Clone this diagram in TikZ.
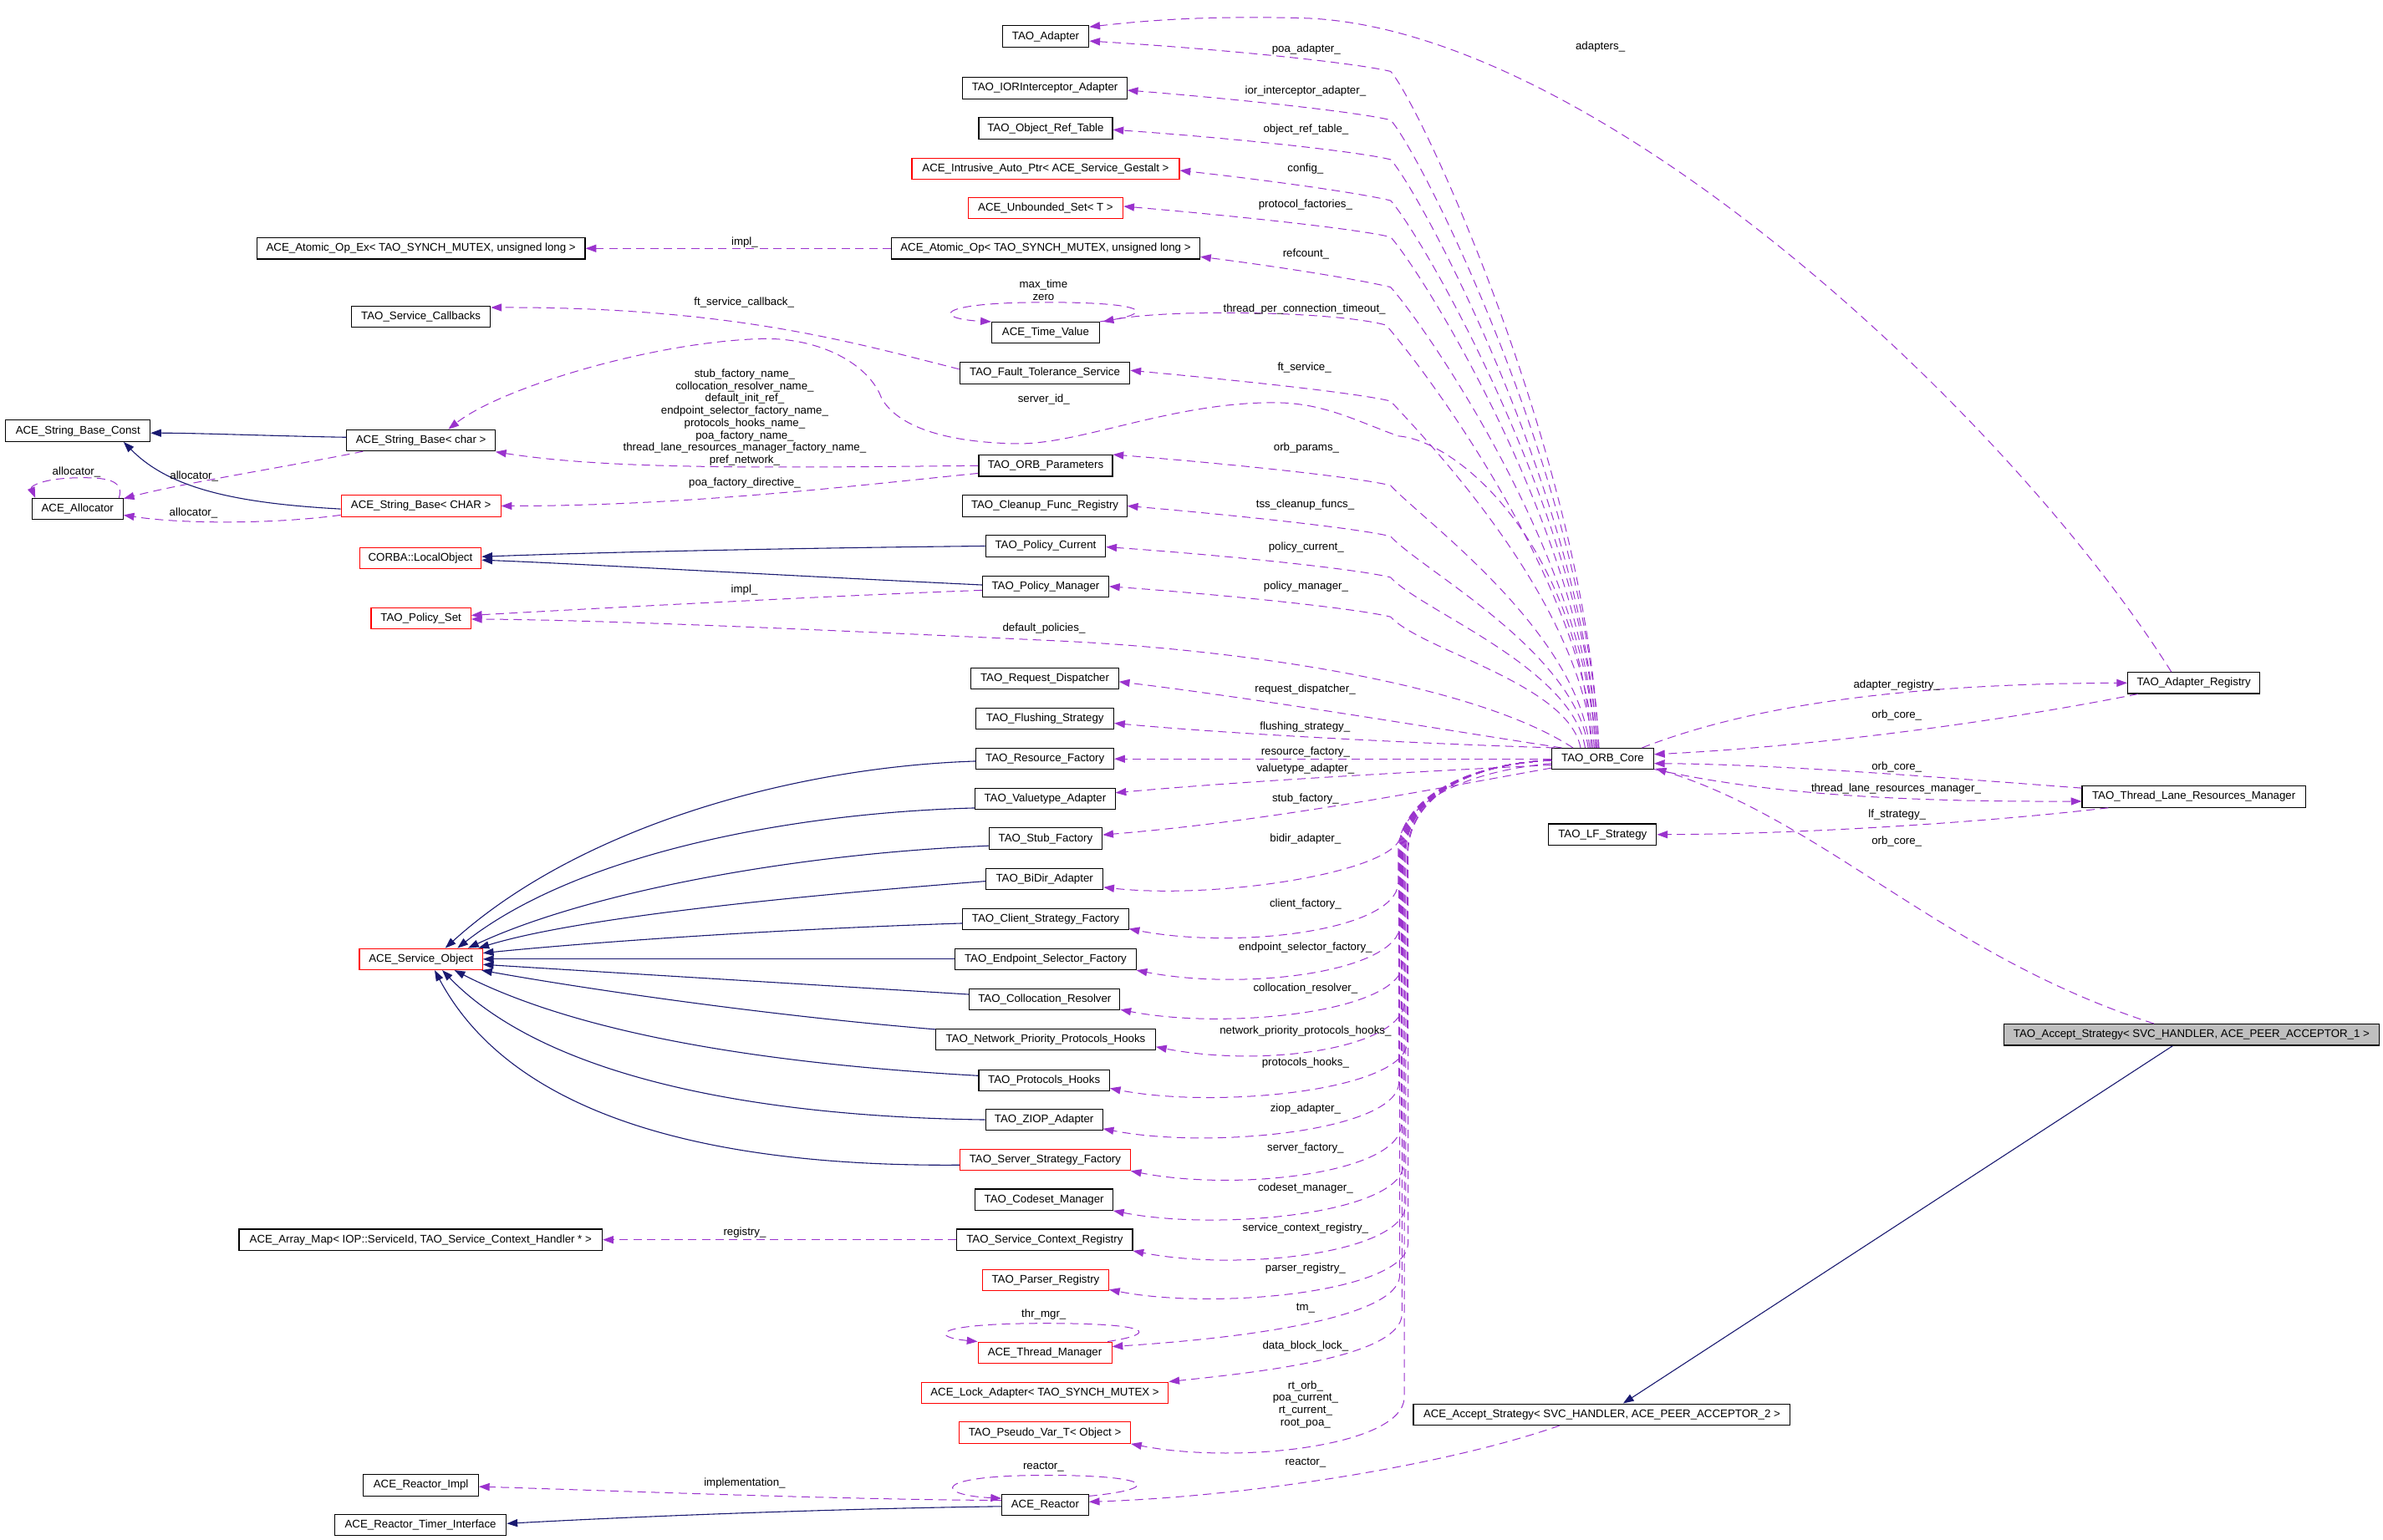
\documentclass[tikz,border=0pt]{standalone}
\usepackage{fontspec}
\setmainfont{Liberation Sans}
\usetikzlibrary{arrows.meta,calc}
\definecolor{purp}{HTML}{9A32CD}
\definecolor{navyb}{HTML}{191970}
\definecolor{grayf}{HTML}{BFBFBF}
\newcommand\dgf{\fontsize{7.3}{8.1}\selectfont}
\begin{document}
\begin{tikzpicture}[x=1pt,y=-1pt,
  box/.style={draw=black,line width=0.6pt,minimum height=14pt,inner xsep=3pt,inner ysep=0pt,font=\dgf,fill=white},
  redbox/.style={box,draw=red},
  lbl/.style={font=\dgf,inner sep=0pt,align=center},
  usg/.style={draw=purp,line width=0.55pt,dash pattern=on 5.5pt off 3.5pt,-{Triangle[length=7pt,width=5pt]}},
  inh/.style={draw=navyb,line width=0.6pt,-{Triangle[length=7pt,width=5pt]}}]
\fill[white] (0,0) rectangle (1568,1013.6);
\useasboundingbox (0,0) rectangle (1568,1013.6);
% nodes
\node[box,minimum width=57pt] (adapter) at (688,24) {TAO\_Adapter};
\node[box,minimum width=108pt] (ior) at (687.5,58) {TAO\_IORInterceptor\_Adapter};
\node[box,minimum width=88pt] (objref) at (688,84.5) {TAO\_Object\_Ref\_Table};
\node[redbox,minimum width=176pt] (iap) at (688,111) {ACE\_Intrusive\_Auto\_Ptr< ACE\_Service\_Gestalt >};
\node[redbox,minimum width=102pt] (uset) at (688,137) {ACE\_Unbounded\_Set< T >};
\node[box,minimum width=203pt] (aop) at (688,163.5) {ACE\_Atomic\_Op< TAO\_SYNCH\_MUTEX, unsigned long >};
\node[box,minimum width=216pt] (aopex) at (277,163.5) {ACE\_Atomic\_Op\_Ex< TAO\_SYNCH\_MUTEX, unsigned long >};
\node[box,minimum width=71pt] (tv) at (688,219) {ACE\_Time\_Value};
\node[box,minimum width=91.5pt] (svccb) at (277,208.4) {TAO\_Service\_Callbacks};
\node[box,minimum width=112pt] (fts) at (687.5,245.5) {TAO\_Fault\_Tolerance\_Service};
\node[box,minimum width=95pt] (sbconst) at (51.3,283.6) {ACE\_String\_Base\_Const};
\node[box,minimum width=97.6pt] (sbchar) at (277,289.8) {ACE\_String\_Base< char >};
\node[box,minimum width=60pt] (alloc) at (51,335) {ACE\_Allocator};
\node[redbox,minimum width=105pt] (sbCHAR) at (277,333) {ACE\_String\_Base< CHAR >};
\node[box,minimum width=88pt] (orbp) at (688,306.5) {TAO\_ORB\_Parameters};
\node[box,minimum width=108pt] (cfr) at (687.5,333) {TAO\_Cleanup\_Func\_Registry};
\node[redbox,minimum width=80pt] (lobj) at (276.6,367.4) {CORBA::LocalObject};
\node[box,minimum width=79pt] (pcur) at (688,359.4) {TAO\_Policy\_Current};
\node[box,minimum width=83pt] (pmgr) at (688,386) {TAO\_Policy\_Manager};
\node[redbox,minimum width=65.6pt] (pset) at (277,406.9) {TAO\_Policy\_Set};
\node[box,minimum width=97pt] (rd) at (687.5,446.7) {TAO\_Request\_Dispatcher};
\node[box,minimum width=90.6pt] (fls) at (687.6,473) {TAO\_Flushing\_Strategy};
\node[box,minimum width=90.6pt] (rf) at (687.6,499.5) {TAO\_Resource\_Factory};
\node[box,minimum width=92pt] (vta) at (687.7,525.8) {TAO\_Valuetype\_Adapter};
\node[box,minimum width=74.5pt] (stub) at (688,552) {TAO\_Stub\_Factory};
\node[box,minimum width=77pt] (bidir) at (687.3,578.5) {TAO\_BiDir\_Adapter};
\node[box,minimum width=109pt] (csf) at (688,605) {TAO\_Client\_Strategy\_Factory};
\node[box,minimum width=119pt] (esf) at (688,631.3) {TAO\_Endpoint\_Selector\_Factory};
\node[box,minimum width=99pt] (colres) at (687.4,657.7) {TAO\_Collocation\_Resolver};
\node[box,minimum width=144.6pt] (nph) at (688,684.2) {TAO\_Network\_Priority\_Protocols\_Hooks};
\node[box,minimum width=86pt] (ph) at (687,711) {TAO\_Protocols\_Hooks};
\node[box,minimum width=77pt] (ziop) at (687,737) {TAO\_ZIOP\_Adapter};
\node[redbox,minimum width=112pt] (ssf) at (687.7,763.4) {TAO\_Server\_Strategy\_Factory};
\node[box,minimum width=90.5pt] (csm) at (687,789.6) {TAO\_Codeset\_Manager};
\node[box,minimum width=115.6pt] (scr) at (687.4,816) {TAO\_Service\_Context\_Registry};
\node[redbox,minimum width=83pt] (pr) at (688,842.5) {TAO\_Parser\_Registry};
\node[redbox,minimum width=88pt] (thm) at (687.5,890.3) {ACE\_Thread\_Manager};
\node[redbox,minimum width=162.5pt] (lock) at (687.5,916.7) {ACE\_Lock\_Adapter< TAO\_SYNCH\_MUTEX >};
\node[redbox,minimum width=112.7pt] (pvar) at (687.5,943) {TAO\_Pseudo\_Var\_T< Object >};
\node[box,minimum width=57pt] (reactor) at (687.7,990.5) {ACE\_Reactor};
\node[box,minimum width=239pt] (amap) at (276.8,816) {ACE\_Array\_Map< IOP::ServiceId, TAO\_Service\_Context\_Handler * >};
\node[box,minimum width=75.6pt] (rimpl) at (277,977.5) {ACE\_Reactor\_Impl};
\node[box,minimum width=113pt] (rti) at (276.7,1003.8) {ACE\_Reactor\_Timer\_Interface};
\node[redbox,minimum width=81pt] (so) at (277,631.3) {ACE\_Service\_Object};
\node[box,minimum width=67pt] (core) at (1054.6,499.5) {TAO\_ORB\_Core};
\node[box,minimum width=71pt] (lf) at (1054.5,549.3) {TAO\_LF\_Strategy};
\node[box,minimum width=87pt] (areg) at (1443.5,449.5) {TAO\_Adapter\_Registry};
\node[box,minimum width=147pt] (tlrm) at (1443.5,524.4) {TAO\_Thread\_Lane\_Resources\_Manager};
\node[box,fill=grayf,minimum width=247pt] (tas) at (1442,681) {TAO\_Accept\_Strategy< SVC\_HANDLER, ACE\_PEER\_ACCEPTOR\_1 >};
\node[box,minimum width=248pt] (aas) at (1054,931) {ACE\_Accept\_Strategy< SVC\_HANDLER, ACE\_PEER\_ACCEPTOR\_2 >};
% upper fan from ORB core
\draw[usg] ($(core.north)+(-2.6,0)$) .. controls (1044,306) and (935,69) .. (915,47) .. controls (890,41) and (800,32) .. ($(adapter.east)+(0,3)$);
\draw[usg] ($(core.north)+(-2.6,0)$) .. controls (1044,319) and (935,101) .. (915,79) .. controls (890,73) and (800,64) .. ($(ior.east)+(0,1.4)$);
\draw[usg] ($(core.north)+(-3.6,0)$) .. controls (1043,330) and (935,127) .. (915,105) .. controls (890,99) and (800,90) .. ($(objref.east)+(0,0.9)$);
\draw[usg] ($(core.north)+(-3.6,0)$) .. controls (1043,340) and (935,154) .. (915,132) .. controls (890,126) and (820,117) .. ($(iap.east)+(0,1.2)$);
\draw[usg] ($(core.north)+(-4.6,0)$) .. controls (1042,349) and (935,178) .. (915,156) .. controls (890,150) and (800,141) .. ($(uset.east)+(0,-1.2)$);
\draw[usg] ($(core.north)+(-4.6,0)$) .. controls (1042,363) and (935,211) .. (915,189) .. controls (890,183) and (830,174) .. ($(aop.east)+(0,5.5)$);
\draw[usg] ($(core.north)+(-5.6,0)$) .. controls (1041,380) and (935,240) .. (912,214) .. controls (880,205) and (770,203) .. ($(tv.north east)+(2,0)$);
\draw[usg] ($(core.north)+(-6.6,0)$) .. controls (1040,393) and (935,286) .. (915,264) .. controls (890,258) and (800,249) .. ($(fts.east)+(0,-1.7)$);
\draw[usg] ($(core.north)+(-7.6,0)$) .. controls (1040,360) and (960,290) .. (920,287) .. controls (890,276) and (870,265) .. (838,265) .. controls (770,265) and (710,293) .. (668,292) .. controls (620,291) and (590,280) .. (580,262) .. controls (572,240) and (540,222) .. (501,223) .. controls (430,225) and (330,255) .. ($(sbchar.north)+(18,0)$);
\draw[usg] ($(core.north)+(-8.6,0)$) .. controls (1038,415) and (935,341.5) .. (915,319.5) .. controls (890,313.5) and (800,304.5) .. (orbp.north east);
\draw[usg] ($(core.north)+(-9.6,0)$) .. controls (1037,429) and (935,375) .. (915,353) .. controls (890,347) and (800,338) .. (cfr.east);
\draw[usg] ($(core.north)+(-11.6,0)$) .. controls (1035,439.5) and (935,402) .. (915,380) .. controls (890,374) and (800,365) .. ($(pcur.east)+(0,0.6)$);
\draw[usg] ($(core.north)+(-14.6,0)$) .. controls (1032,450) and (935,428) .. (915,406) .. controls (890,400) and (800,391) .. (pmgr.east);
\draw[usg] ($(core.north)+(-19.6,0)$) .. controls (970,450) and (820,428) .. (700,422) .. controls (550,415) and (400,408) .. ($(pset.east)+(0,0.6)$);
\draw[usg] ($(core.north)+(-27,0)$) .. controls (960,482) and (830,460) .. ($(rd.east)+(0,2)$);
\draw[usg] ($(core.north west)+(2,0)$) .. controls (950,490) and (820,484) .. ($(fls.east)+(0,3)$);
\draw[usg] (core.west) -- (rf.east);
\draw[usg] ($(core.west)+(0,4)$) .. controls (930,508) and (820,514) .. ($(vta.east)+(0,-4)$);
\draw[usg] ($(core.west)+(0,6)$) .. controls (950,518) and (840,540) .. ($(stub.east)+(0,-2.5)$);
\draw[usg] ($(core.west)+(0,3)$) .. controls (960,508) and (925,530) .. (920.7,553) .. controls (910,575) and (800,592) .. ($(bidir.east)+(0,5.5)$);
% lower bundle
\draw[usg] ($(core.west)+(0,1)$) .. controls (975,502) and (922,520) .. (920,560) -- (920,581) .. controls (919,613) and (812.5,625) .. ($(csf.south east)+(0,-1)$);
\draw[usg] ($(core.west)+(0,1)$) .. controls (975,502) and (923.5,520) .. (921.5,560) -- (921.5,608.3) .. controls (920.5,640.3) and (817.5,652.3) .. (esf.south east);
\draw[usg] ($(core.west)+(0,1)$) .. controls (975,502) and (925,520) .. (923,560) -- (923,634.2) .. controls (922,666.2) and (806.9,678.2) .. ($(colres.south east)+(0,-0.5)$);
\draw[usg] ($(core.west)+(0,1)$) .. controls (975,502) and (926.5,520) .. (924.5,560) -- (924.5,658.7) .. controls (923.5,690.7) and (830.3,702.7) .. ($(nph.south east)+(0,-2.5)$);
\draw[usg] ($(core.west)+(0,1)$) .. controls (975,502) and (928,520) .. (926,560) -- (926,686) .. controls (925,718) and (800,730) .. ($(ph.south east)+(0,-2)$);
\draw[usg] ($(core.west)+(0,1)$) .. controls (975,502) and (922.5,520) .. (920.5,560) -- (920.5,712.6) .. controls (919.5,744.6) and (795.5,756.6) .. ($(ziop.south east)+(0,-1.4)$);
\draw[usg] ($(core.west)+(0,1)$) .. controls (975,502) and (924,520) .. (922,560) -- (922,740.4) .. controls (921,772.4) and (813.7,784.4) .. (ssf.south east);
\draw[usg] ($(core.west)+(0,1)$) .. controls (975,502) and (925.5,520) .. (923.5,560) -- (923.5,766.6) .. controls (922.5,798.6) and (802.3,810.6) .. (csm.south east);
\draw[usg] ($(core.west)+(0,1)$) .. controls (975,502) and (927,520) .. (925,560) -- (925,793) .. controls (924,825) and (815.2,837) .. (scr.south east);
\draw[usg] ($(core.west)+(0,1)$) .. controls (975,502) and (928.5,520) .. (926.5,560) -- (926.5,818.5) .. controls (925.5,850.5) and (799.5,862.5) .. ($(pr.south east)+(0,-1)$);
\draw[usg] ($(core.west)+(0,1)$) .. controls (975,502) and (923,520) .. (921,560) -- (921,840) .. controls (919,866) and (830,880) .. ($(thm.east)+(0,-4)$);
\draw[usg] ($(core.west)+(0,1)$) .. controls (975,502) and (924.5,520) .. (922.5,560) -- (922.5,865) .. controls (921.5,893) and (830,903) .. (lock.north east);
\draw[usg] ($(core.west)+(0,1)$) .. controls (975,502) and (926,520) .. (924,560) -- (924,920) .. controls (923,952) and (813.9,964) .. (pvar.south east);
% right side
\draw[usg] ($(core.north east)+(-8,0)$) .. controls (1150,465) and (1250,450) .. (areg.west);
\draw[usg] ($(areg.south west)+(7,0)$) .. controls (1300,478) and (1180,492) .. ($(core.east)+(0,-3)$);
\draw[usg] ($(tlrm.north west)+(0,1.6)$) .. controls (1280,512) and (1170,503) .. ($(core.east)+(0,3)$);
\draw[usg] ($(core.south east)+(0,-0.5)$) .. controls (1150,520) and (1230,528) .. ($(tlrm.west)+(0,3)$);
\draw[usg] ($(tlrm.south west)+(17.5,0)$) .. controls (1300,542) and (1180,549) .. (lf.east);
\draw[usg] ($(tas.north west)+(99,0)$) .. controls (1280,630) and (1200,540) .. ($(core.south east)+(1,-1)$);
\draw[inh] ($(tas.south west)+(111.5,0)$) -- ($(aas.north)+(14,0)$);
\draw[usg] ($(aas.south west)+(96.5,0)$) .. controls (950,965) and (820,985) .. ($(reactor.east)+(0,-2)$);
\draw[usg] ($(areg.north west)+(29,0)$) .. controls (1320,270) and (1050,20) .. (860,12) .. controls (790,10) and (750,14) .. ($(adapter.north east)+(0,1)$);
% left side dashed
\draw[usg] (aop.west) -- (aopex.east);
\draw[usg] ($(fts.west)+(0,-2.5)$) .. controls (560,225) and (480,202) .. ($(svccb.east)+(0,-6)$);
\draw[usg] (orbp.west) .. controls (500,308) and (400,309) .. ($(sbchar.south east)+(0,0.3)$);
\draw[usg] ($(orbp.west)+(0,5)$) .. controls (560,320) and (450,333) .. (sbCHAR.east);
\draw[usg] ($(sbchar.south west)+(11,0)$) .. controls (190,307) and (120,318) .. ($(alloc.north east)+(0,0.5)$);
\draw[usg] ($(sbCHAR.west)+(0,6)$) .. controls (180,345) and (120,345) .. ($(alloc.east)+(0,4)$);
\draw[usg] ($(alloc.north east)+(-3,0)$) .. controls (82,316) and (70,314) .. (50,314.5) .. controls (28,315) and (20,320) .. ($(alloc.north west)+(2.5,0)$);
\draw[usg] ($(pmgr.west)+(0,2.5)$) .. controls (550,392) and (400,400) .. ($(pset.east)+(0,-1.9)$);
\draw[usg] (scr.west) -- (amap.east);
\draw[usg] ($(reactor.west)+(0,-3)$) .. controls (550,987) and (400,981) .. ($(rimpl.east)+(0,1)$);
% self loops
\draw[usg] (tv.north east) .. controls (760,207) and (760,199) .. (688,199) .. controls (612,199) and (615,210) .. (tv.north west);
\draw[usg] ($(thm.north east)+(-3,0)$) .. controls (762,878) and (760,871) .. (688,871) .. controls (612,871) and (612,880) .. (thm.north west);
\draw[usg] ($(reactor.north east)+(0,1.5)$) .. controls (765,980) and (760,971) .. (688,971) .. controls (612,971) and (615,984) .. ($(reactor.north west)+(0,3)$);
% inheritance
\draw[inh] ($(sbchar.west)+(0,-2)$) .. controls (180,287) and (130,285) .. ($(sbconst.east)+(0,1.4)$);
\draw[inh] ($(sbCHAR.west)+(0,2)$) .. controls (150,331) and (110,320) .. ($(sbconst.south east)+(-17.8,0)$);
\draw[inh] (pcur.west) .. controls (500,361) and (380,364) .. ($(lobj.east)+(0,-1)$);
\draw[inh] ($(pmgr.west)+(0,-1)$) .. controls (500,378) and (380,371) .. ($(lobj.east)+(0,1.2)$);
\draw[inh] ($(reactor.west)+(0,1)$) .. controls (550,993) and (420,998) .. ($(rti.east)+(0,-1)$);
\draw[inh] ($(rf.west)+(0,1.5)$) .. controls (520,505) and (380,545) .. ($(so.north)+(16,0)$);
\draw[inh] ($(vta.south west)+(0,-1.3)$) .. controls (520,535) and (380,562) .. ($(so.north)+(24,0)$);
\draw[inh] ($(stub.west)+(0,4.7)$) .. controls (520,562) and (385,588) .. ($(so.north)+(31,0)$);
\draw[inh] ($(bidir.west)+(0,1.5)$) .. controls (520,590) and (380,604) .. ($(so.north east)+(-3,0)$);
\draw[inh] ($(csf.west)+(0,2.7)$) .. controls (500,612) and (380,621) .. ($(so.east)+(0,-4)$);
\draw[inh] (esf.west) -- (so.east);
\draw[inh] ($(colres.west)+(0,-3.2)$) .. controls (500,646) and (400,640) .. ($(so.east)+(0,3.5)$);
\draw[inh] ($(nph.west)+(0,-6.7)$) .. controls (500,668) and (380,650) .. ($(so.south east)+(-1,0)$);
\draw[inh] ($(ph.west)+(0,-3)$) .. controls (500,700) and (380,680) .. ($(so.south)+(22,0)$);
\draw[inh] (ziop.west) .. controls (500,735) and (360,710) .. ($(so.south)+(14,0)$);
\draw[inh] ($(ssf.west)+(0,3.4)$) .. controls (480,768) and (340,740) .. ($(so.south)+(9,0)$);
% labels
\node[lbl] (l01) at (859.5,32.7) {poa\_adapter\_};
\node[lbl] (l02) at (859,60.1) {ior\_interceptor\_adapter\_};
\node[lbl] (l03) at (859.3,85.4) {object\_ref\_table\_};
\node[lbl] (l04) at (859,111) {config\_};
\node[lbl] (l05) at (859,135) {protocol\_factories\_};
\node[lbl] (l06) at (859.3,167) {refcount\_};
\node[lbl] (l07) at (858.3,203.8) {thread\_per\_connection\_timeout\_};
\node[lbl] (l08) at (858.3,241.8) {ft\_service\_};
\node[lbl] (l09) at (859.6,294.6) {orb\_params\_};
\node[lbl] (l10) at (858.8,332) {tss\_cleanup\_funcs\_};
\node[lbl] (l11) at (859.5,360) {policy\_current\_};
\node[lbl] (l12) at (859.3,386) {policy\_manager\_};
\node[lbl] (l13) at (686.6,191) {max\_time\\zero};
\node[lbl] (l14) at (686.8,262.7) {server\_id\_};
\node[lbl] (l15) at (686.9,413.4) {default\_policies\_};
\node[lbl] (l16) at (858.8,454) {request\_dispatcher\_};
\node[lbl] (l17) at (858.7,478.3) {flushing\_strategy\_};
\node[lbl] (l18) at (859,494.9) {resource\_factory\_};
\node[lbl] (l19) at (859,505.8) {valuetype\_adapter\_};
\node[lbl] (l20) at (859,525.6) {stub\_factory\_};
\node[lbl] (l21) at (859,552) {bidir\_adapter\_};
\node[lbl] (l22) at (859,594.9) {client\_factory\_};
\node[lbl] (l23) at (859,623.5) {endpoint\_selector\_factory\_};
\node[lbl] (l24) at (859,650.9) {collocation\_resolver\_};
\node[lbl] (l25) at (859,678.9) {network\_priority\_protocols\_hooks\_};
\node[lbl] (l26) at (859,699.5) {protocols\_hooks\_};
\node[lbl] (l27) at (859,729.9) {ziop\_adapter\_};
\node[lbl] (l28) at (859,755.6) {server\_factory\_};
\node[lbl] (l29) at (859,782) {codeset\_manager\_};
\node[lbl] (l30) at (859,808.3) {service\_context\_registry\_};
\node[lbl] (l31) at (859,835) {parser\_registry\_};
\node[lbl] (l32) at (859,861.2) {tm\_};
\node[lbl] (l33) at (859,885.8) {data\_block\_lock\_};
\node[lbl] (l34) at (859,924.4) {rt\_orb\_\\poa\_current\_\\rt\_current\_\\root\_poa\_};
\node[lbl] (l35) at (859,962.5) {reactor\_};
\node[lbl] (l36) at (686.8,865.4) {thr\_mgr\_};
\node[lbl] (l37) at (686.6,965.4) {reactor\_};
\node[lbl] (l38) at (1053,31) {adapters\_};
\node[lbl] (l39) at (1248,451) {adapter\_registry\_};
\node[lbl] (l40) at (1248,470.8) {orb\_core\_};
\node[lbl] (l41) at (1248,504.7) {orb\_core\_};
\node[lbl] (l42) at (1247.6,519) {thread\_lane\_resources\_manager\_};
\node[lbl] (l43) at (1248.3,536.2) {lf\_strategy\_};
\node[lbl] (l44) at (1248,553.7) {orb\_core\_};
\node[lbl] (l45) at (490,159.3) {impl\_};
\node[lbl] (l46) at (489.6,199.2) {ft\_service\_callback\_};
\node[lbl] (l47) at (490,274.75) {stub\_factory\_name\_\\collocation\_resolver\_name\_\\default\_init\_ref\_\\endpoint\_selector\_factory\_name\_\\protocols\_hooks\_name\_\\poa\_factory\_name\_\\thread\_lane\_resources\_manager\_factory\_name\_\\pref\_network\_};
\node[lbl] (l48) at (490,317.9) {poa\_factory\_directive\_};
\node[lbl] (l49) at (127.7,313.4) {allocator\_};
\node[lbl] (l50) at (127.3,337.5) {allocator\_};
\node[lbl] (l51) at (50.3,311) {allocator\_};
\node[lbl] (l52) at (489.8,388.3) {impl\_};
\node[lbl] (l53) at (490,811.2) {registry\_};
\node[lbl] (l54) at (490,976.2) {implementation\_};
\end{tikzpicture}
\end{document}
